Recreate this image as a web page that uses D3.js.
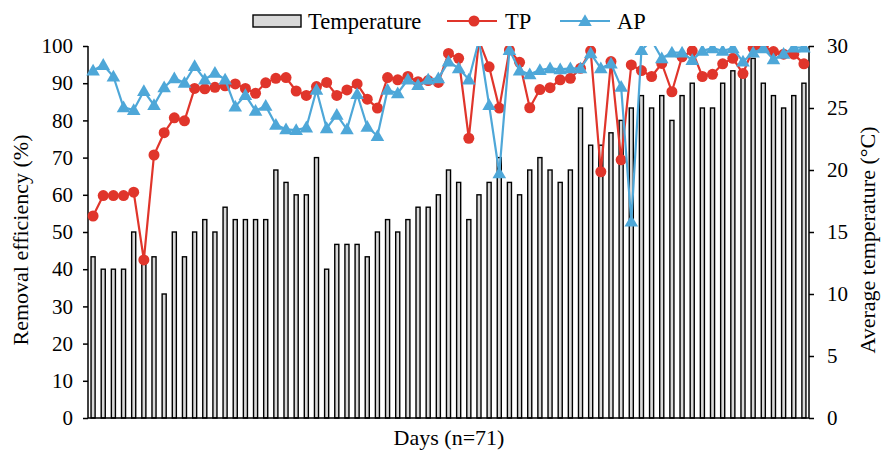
<!DOCTYPE html>
<html>
<head>
<meta charset="utf-8">
<script src="https://cdn.jsdelivr.net/npm/d3@7.9.0/dist/d3.min.js"></script>
<style>
  body { margin: 0; background: #fff; }
  svg { display: block; font-family: "Liberation Serif", "Times New Roman", serif; }
</style>
</head>
<body>
<svg id="chart" width="882" height="450"></svg>
<script>
// Data
const days = d3.range(1, 72);
const temperature = [13, 12, 12, 12, 15, 13, 13, 10, 15, 13, 15, 16, 15, 17, 16, 16, 16, 16, 20, 19,
  18, 18, 21, 12, 14, 14, 14, 13, 15, 16, 15, 16, 17, 17, 18, 20, 19, 16, 18, 19,
  21, 19, 18, 20, 21, 20, 19, 20, 25, 22, 22, 23, 24, 25, 26, 25, 26, 24, 26, 27,
  25, 25, 27, 28, 28, 29, 27, 26, 25, 26, 27];
const tp = [54.3, 59.8, 59.8, 59.8, 60.7, 42.5, 70.7, 76.7, 80.7, 79.9, 88.6, 88.5, 88.9, 89.3, 89.8, 88.6, 87.3, 90.1, 91.3, 91.5,
  87.9, 86.7, 89.1, 90.2, 86.7, 88.2, 89.8, 85.7, 83.3, 91.5, 90.9, 91.8, 90.4, 90.7, 90.2, 98.0, 96.7, 75.2, 101.5, 94.4,
  83.3, 98.9, 95.6, 83.4, 88.3, 88.8, 90.9, 91.3, 94.0, 98.7, 66.2, 95.8, 69.4, 94.9, 93.4, 91.8, 95.3, 87.7, 97.1, 98.7,
  91.8, 92.4, 95.2, 96.7, 92.6, 99.4, 99.8, 98.5, 97.8, 97.8, 95.2];
const ap = [93.4, 94.9, 91.8, 83.5, 82.8, 87.9, 84.1, 88.9, 91.3, 90.1, 94.6, 91.0, 92.8, 91.0, 83.7, 86.8, 82.6, 83.9, 78.8, 77.6,
  77.4, 78.1, 88.2, 77.9, 81.5, 77.6, 87.1, 78.3, 75.8, 88.2, 87.3, 91.0, 89.5, 91.0, 91.3, 95.8, 94.0, 91.0, 101.5, 84.1,
  65.8, 98.9, 93.4, 92.4, 93.5, 94.0, 93.7, 94.0, 94.0, 98.0, 94.0, 95.3, 89.0, 52.8, 98.9, 101.5, 96.7, 98.2, 98.2, 96.2,
  98.7, 99.4, 98.7, 99.4, 95.8, 98.2, 99.4, 96.4, 97.9, 99.6, 99.6];
const leftTicks = d3.range(0, 101, 10);
const rightTicks = d3.range(0, 31, 5);

const tpColor = '#e0352b';
const apColor = '#4ea7d8';

const svg = d3.select('#chart');
const plot = { left: 88, right: 809, top: 46, bottom: 418 };

// Scales
const x = d3.scaleBand().domain(days).range([plot.left, plot.right]).paddingInner(0.6).paddingOuter(0.3);
const y = d3.scaleLinear().domain([0, 100]).range([plot.bottom, plot.top]);
const yT = d3.scaleLinear().domain([0, 30]).range([plot.bottom, plot.top]);
const cx = d => x(d) + x.bandwidth() / 2;

svg.append('defs').append('clipPath').attr('id', 'clip')
  .append('rect')
  .attr('x', plot.left - 8).attr('y', plot.top)
  .attr('width', plot.right - plot.left + 16).attr('height', plot.bottom - plot.top + 10);

// Temperature bars
svg.append('g')
  .selectAll('rect')
  .data(days)
  .join('rect')
  .attr('x', d => x(d))
  .attr('y', (d, i) => yT(temperature[i]))
  .attr('width', x.bandwidth())
  .attr('height', (d, i) => plot.bottom - yT(temperature[i]))
  .attr('fill', '#d9d9d9')
  .attr('stroke', '#000')
  .attr('stroke-width', 1.4);

// Axes
const fontSize = '21px';
const leftAxis = svg.append('g')
  .attr('transform', `translate(${plot.left},0)`)
  .call(d3.axisLeft(y).tickValues(leftTicks).tickSize(5).tickPadding(10));
const rightAxis = svg.append('g')
  .attr('transform', `translate(${plot.right},0)`)
  .call(d3.axisRight(yT).tickValues(rightTicks).tickSize(5).tickPadding(13));
[leftAxis, rightAxis].forEach(g => {
  g.select('.domain').attr('stroke-width', 1.5).attr('d', `M0,${plot.bottom}V${plot.top}`);
  g.selectAll('.tick line').attr('stroke-width', 1.5);
  g.selectAll('.tick text').attr('font-size', fontSize).attr('fill', '#000')
    .attr('font-family', '"Liberation Serif", "Times New Roman", serif');
});
svg.append('line')
  .attr('x1', plot.left).attr('x2', plot.right)
  .attr('y1', plot.bottom).attr('y2', plot.bottom)
  .attr('stroke', '#000').attr('stroke-width', 1.5);

// Lines
const lineGen = values => d3.line()
  .x(d => cx(d))
  .y((d, i) => y(values[i]));

const series = [
  { values: tp, color: tpColor, marker: 'circle' },
  { values: ap, color: apColor, marker: 'triangle' }
];
const tri = d3.symbol().type(d3.symbolTriangle).size(80);

series.forEach(s => {
  const g = svg.append('g').attr('clip-path', 'url(#clip)');
  g.append('path')
    .datum(days)
    .attr('d', lineGen(s.values))
    .attr('fill', 'none')
    .attr('stroke', s.color)
    .attr('stroke-width', 2.2);
  if (s.marker === 'circle') {
    g.selectAll('circle')
      .data(days)
      .join('circle')
      .attr('cx', d => cx(d))
      .attr('cy', (d, i) => y(s.values[i]))
      .attr('r', 5.5)
      .attr('fill', s.color);
  } else {
    g.selectAll('path.m')
      .data(days)
      .join('path')
      .attr('class', 'm')
      .attr('d', tri)
      .attr('transform', (d, i) => `translate(${cx(d)},${y(s.values[i]) + 1})`)
      .attr('fill', s.color);
  }
});

// Axis titles
svg.append('text')
  .attr('transform', `translate(28,${(plot.top + plot.bottom) / 2 + 8}) rotate(-90)`)
  .attr('text-anchor', 'middle')
  .attr('font-size', '22px')
  .text('Removal efficiency (%)');
svg.append('text')
  .attr('transform', `translate(875,${(plot.top + plot.bottom) / 2 + 8}) rotate(-90)`)
  .attr('text-anchor', 'middle')
  .attr('font-size', '22px')
  .text('Average temperature (\u00B0C)');
svg.append('text')
  .attr('x', 449).attr('y', 445)
  .attr('text-anchor', 'middle')
  .attr('font-size', '22px')
  .text('Days (n=71)');

// Legend
const legend = svg.append('g').attr('font-size', '22.5px');
legend.append('rect')
  .attr('x', 253).attr('y', 15).attr('width', 48).attr('height', 12)
  .attr('fill', '#d9d9d9').attr('stroke', '#000').attr('stroke-width', 1.4);
legend.append('text').attr('x', 308).attr('y', 29).text('Temperature');

legend.append('line')
  .attr('x1', 447).attr('x2', 497).attr('y1', 21).attr('y2', 21)
  .attr('stroke', tpColor).attr('stroke-width', 2.2);
legend.append('circle').attr('cx', 474).attr('cy', 21).attr('r', 5.5).attr('fill', tpColor);
legend.append('text').attr('x', 505).attr('y', 29).text('TP');

legend.append('line')
  .attr('x1', 560).attr('x2', 610).attr('y1', 21).attr('y2', 21)
  .attr('stroke', apColor).attr('stroke-width', 2.2);
legend.append('path').attr('d', tri).attr('transform', 'translate(585,22)').attr('fill', apColor);
legend.append('text').attr('x', 617).attr('y', 29).text('AP');
</script>
</body>
</html>
